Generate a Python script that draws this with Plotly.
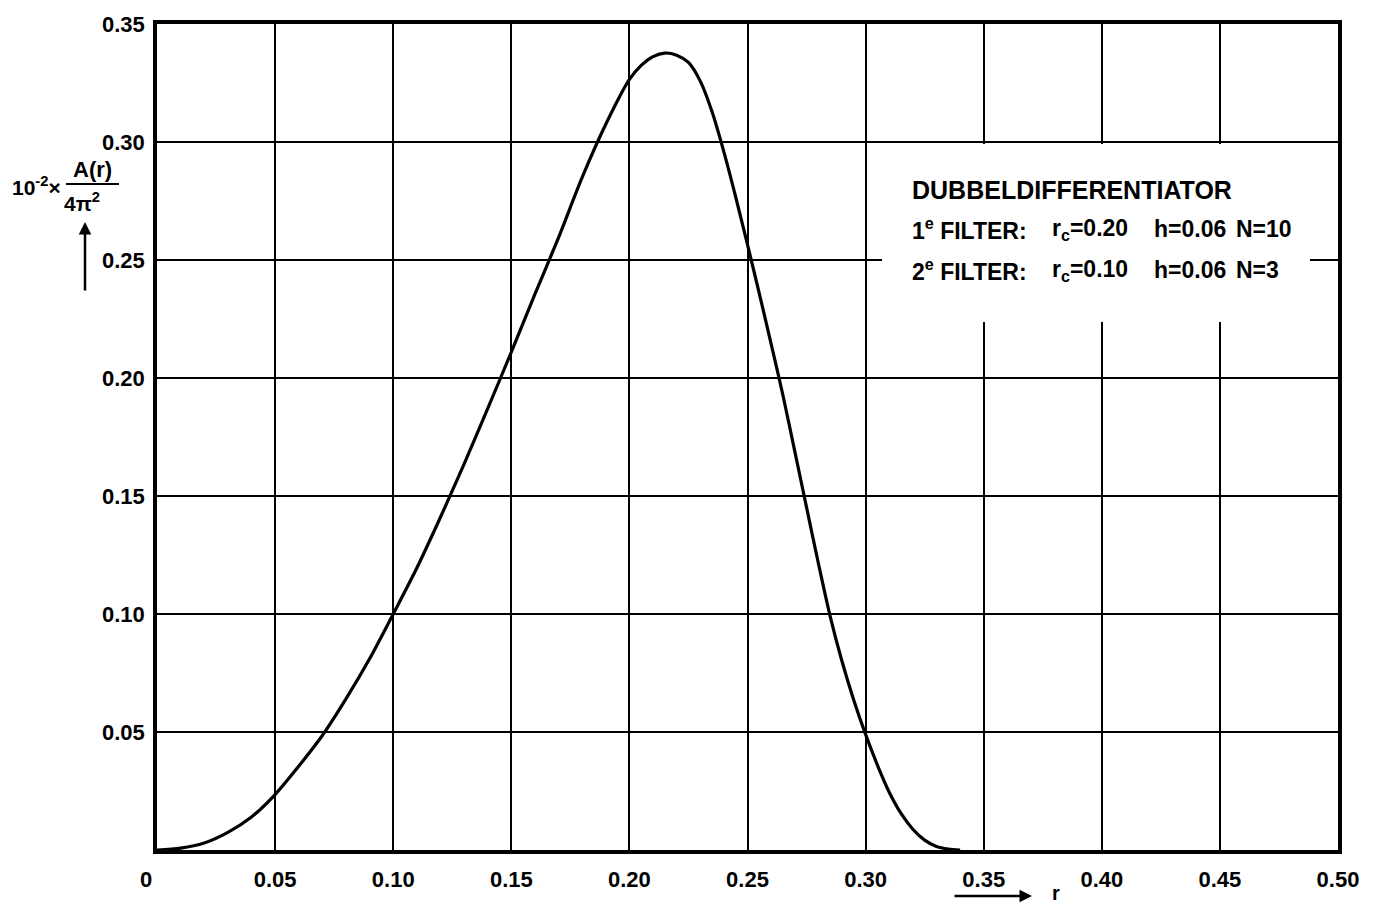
import plotly.graph_objects as go

# Curve values (r, 10^-2 x A(r)/4pi^2)
r_vals = [0, 0.01, 0.02, 0.03, 0.04, 0.05, 0.06, 0.07, 0.08, 0.09,
          0.10, 0.11, 0.12, 0.13, 0.14, 0.15, 0.16, 0.17, 0.18, 0.19,
          0.20, 0.205, 0.21, 0.215, 0.22, 0.225, 0.23, 0.235, 0.24, 0.245,
          0.25, 0.255, 0.26, 0.265, 0.27, 0.275, 0.28, 0.285, 0.29, 0.295,
          0.30, 0.305, 0.31, 0.315, 0.32, 0.325, 0.33, 0.335, 0.34]
a_vals = [0, 0.0008, 0.003, 0.0075, 0.014, 0.0235, 0.0355, 0.0485, 0.064, 0.081,
          0.100, 0.1195, 0.141, 0.1635, 0.187, 0.211, 0.2355, 0.2595, 0.285, 0.3075,
          0.3265, 0.3325, 0.3362, 0.3377, 0.3368, 0.3337, 0.3258, 0.3128, 0.2958, 0.2767,
          0.2565, 0.2358, 0.2145, 0.1927, 0.1690, 0.1452, 0.1215, 0.099, 0.080, 0.0635,
          0.049, 0.036, 0.0245, 0.0155, 0.0088, 0.0042, 0.0015, 0.0004, 0]

x_ticks = [0, 0.05, 0.10, 0.15, 0.20, 0.25, 0.30, 0.35, 0.40, 0.45, 0.50]
x_tick_text = ["0\u2002\u2002", "0.05", "0.10", "0.15", "0.20", "0.25", "0.30", "0.35", "0.40", "0.45", "0.50"]
y_ticks = [0.05, 0.10, 0.15, 0.20, 0.25, 0.30, 0.35]
y_tick_text = ["0.05", "0.10", "0.15", "0.20", "0.25", "0.30", "0.35"]

W, H = 1374, 906
L, R, T, B = 157, 36, 24, 56
PW, PH = W - L - R, H - T - B

def px(x):
    return (x - L) / PW

def py(y):
    return (H - B - y) / PH

FONT = "Liberation Sans"

fig = go.Figure()
fig.add_trace(go.Scatter(x=r_vals, y=a_vals, mode="lines",
                         line=dict(color="black", width=3.2, shape="spline", smoothing=0.8),
                         showlegend=False, hoverinfo="skip"))

fig.update_layout(
    width=W, height=H,
    margin=dict(l=L, r=R, t=T, b=B),
    paper_bgcolor="white", plot_bgcolor="white",
    font=dict(family=FONT, color="black"),
)
fig.update_xaxes(range=[0, 0.5], tickvals=x_ticks, ticktext=x_tick_text,
                 showgrid=True, gridcolor="black", gridwidth=1.8,
                 showline=True, linecolor="black", linewidth=3.5, mirror=True,
                 zeroline=False, ticks="", ticklabelstandoff=7,
                 tickfont=dict(family=FONT, size=22, weight="bold", color="black"))
fig.update_yaxes(range=[0, 0.35], tickvals=y_ticks, ticktext=y_tick_text,
                 showgrid=True, gridcolor="black", gridwidth=1.8,
                 showline=True, linecolor="black", linewidth=3.5, mirror=True,
                 zeroline=False, ticks="", ticklabelstandoff=4,
                 tickfont=dict(family=FONT, size=22, weight="bold", color="black"))

shapes = []
# white box behind the legend text
shapes.append(dict(type="rect", xref="paper", yref="paper",
                   x0=px(882), x1=px(1310), y0=py(322), y1=py(144),
                   fillcolor="white", line=dict(width=0), layer="above"))
# fraction bar of y label
shapes.append(dict(type="line", xref="paper", yref="paper",
                   x0=px(66), x1=px(119), y0=py(184), y1=py(184),
                   line=dict(color="black", width=2)))
fig.update_layout(shapes=shapes)

ann = []

def text(x, y, s, size=23, xanchor="left"):
    ann.append(dict(xref="paper", yref="paper", x=px(x), y=py(y), text=s,
                    showarrow=False, xanchor=xanchor, yanchor="middle",
                    font=dict(family=FONT, size=size, color="black", weight="bold")))

text(910, 190, "DUBBELDIFFERENTIATOR", size=25)
text(910, 229, "1<sup>e</sup> FILTER:")
text(910, 270, "2<sup>e</sup> FILTER:")
text(1050, 229, "r<sub>c</sub>=0.20")
text(1050, 270, "r<sub>c</sub>=0.10")
text(1152, 229, "h=0.06")
text(1152, 270, "h=0.06")
text(1234, 229, "N=10")
text(1234, 270, "N=3")

# y-axis label
text(10, 186, "10<sup>-2</sup>×", size=21)
text(92, 170, "A(r)", size=22, xanchor="center")
text(82, 202, "4π<sup>2</sup>", size=21, xanchor="center")
# x-axis label
text(1050, 893, "r", size=20)

# arrows (tail offsets in pixels)
ann.append(dict(xref="paper", yref="paper", axref="pixel", ayref="pixel",
                x=px(85), y=py(222), ax=0, ay=70, text="",
                showarrow=True, arrowhead=2, arrowsize=1, arrowwidth=2.5, arrowcolor="black"))
ann.append(dict(xref="paper", yref="paper", axref="pixel", ayref="pixel",
                x=px(1032), y=py(896), ax=-79, ay=0, text="",
                showarrow=True, arrowhead=2, arrowsize=1, arrowwidth=2.5, arrowcolor="black"))
fig.update_layout(annotations=ann)

fig.write_html("out.html")
